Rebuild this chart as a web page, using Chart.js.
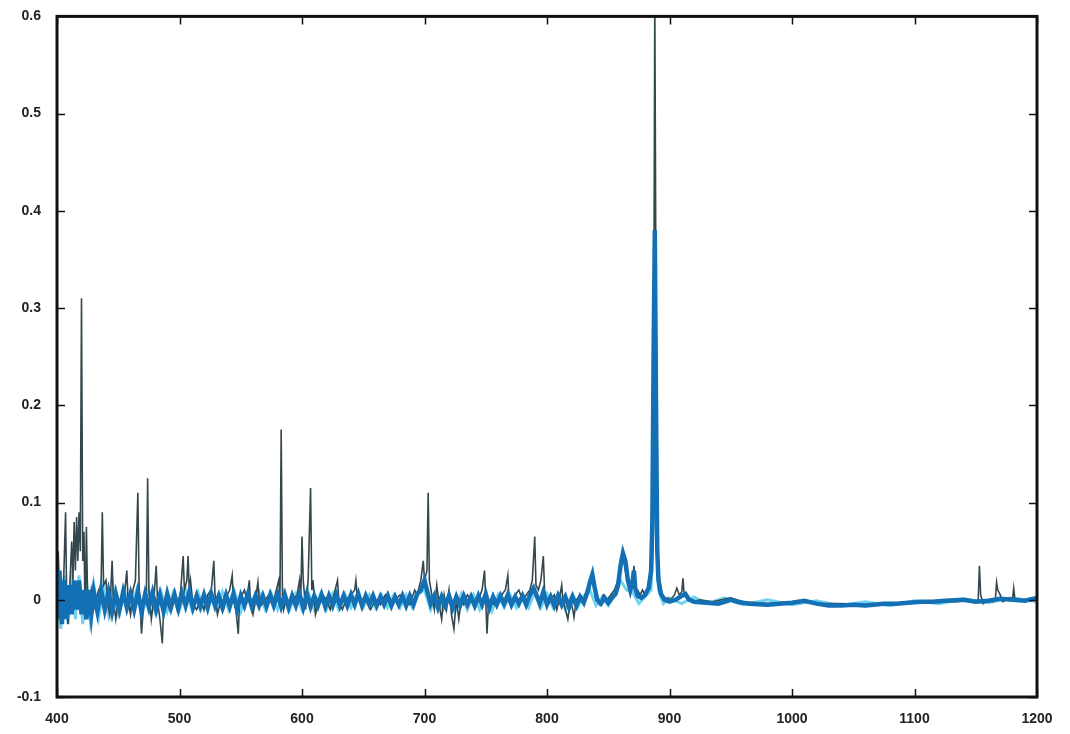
<!DOCTYPE html>
<html>
<head>
<meta charset="utf-8">
<script src="https://cdn.jsdelivr.net/npm/chart.js@4"></script>
<style>
  html, body { margin: 0; padding: 0; background: #fff; }
  #wrap { width: 1070px; height: 734px; }
</style>
</head>
<body>
<div id="wrap"><canvas id="spec"></canvas></div>
<script>
// axis ticks
const xTicks = [400, 500, 600, 700, 800, 900, 1000, 1100, 1200];
const yTicks = [-0.1, 0, 0.1, 0.2, 0.3, 0.4, 0.5, 0.6];

// dark trace: sharp lines [wavenumber, value]
const darkTrace = [
  [400,0],[401,0.05],[402,0.01],[403,-0.02],[405,0],[407,0.09],[408,-0.01],[409,-0.025],
  [411,0.03],[412,0.06],[413,0.02],[414,0.08],[415,0.03],[416,0.085],[417,0.04],[418,0.09],
  [419,0.05],[420,0.31],[421,0.04],[422,0.07],[423,-0.02],[424,0.075],[425,0],[426,-0.015],
  [428,0.01],[430,-0.01],[432,0],[434,0.01],[436,0.015],[437,0.09],[438,0.015],[440,0.02],
  [441,0],[443,-0.015],[445,0.04],[446,0],[448,-0.02],[450,0],[452,-0.01],[455,0.005],
  [457,0.03],[458,0],[460,-0.015],[462,0.01],[464,0.02],[466,0.11],[467,0.015],[469,-0.035],
  [471,0],[473,0.01],[474,0.125],[475,0.01],[477,-0.02],[479,0],[481,0.035],[482,0],
  [484,-0.02],[486,-0.045],[487,-0.01],[489,0],[492,-0.01],[495,0.005],[498,-0.01],[501,0.01],
  [503,0.045],[504,0.01],[506,0.02],[507,0.045],[508,0.01],[509,0.02],[511,-0.005],[514,-0.01],
  [517,0],[520,-0.01],[523,0.005],[526,0.01],[528,0.04],[529,0.005],[531,-0.015],[534,0],
  [536,-0.01],[539,0.005],[541,0.01],[543,0.025],[544,0],[546,-0.01],[548,-0.035],[549,0],
  [551,0.005],[553,0.01],[555,0],[557,0.02],[558,-0.005],[560,-0.015],[562,0],[564,0.018],
  [565,0],[567,-0.005],[570,0],[573,0.005],[576,-0.005],[579,0.01],[581,0.02],[582,0],
  [583,0.175],[584,0.01],[585,-0.01],[587,0],[590,-0.005],[593,0],[596,0.005],[598,0.02],
  [599,0],[600,0.065],[601,0.02],[603,-0.01],[605,0.02],[607,0.115],[608,0.01],[609,0.02],
  [611,-0.015],[614,0],[617,0.005],[620,0],[623,-0.01],[626,0.005],[629,0.02],[630,0],
  [633,-0.01],[636,0],[640,0.005],[643,0.01],[644,0.02],[645,0.005],[648,-0.005],[652,0],
  [656,-0.01],[660,0],[664,-0.005],[668,0.005],[672,-0.005],[676,0],[680,0.005],[684,0],
  [688,-0.005],[692,0.01],[694,0.005],[697,0.02],[699,0.04],[700,0.02],[702,0.03],[703,0.11],
  [704,0.02],[706,0.005],[708,-0.01],[710,0.015],[712,-0.005],[714,-0.02],[716,0.005],[718,-0.01],
  [720,0.01],[722,-0.015],[724,-0.03],[726,0],[728,-0.02],[730,0],[732,-0.005],[735,0.005],
  [738,0],[741,-0.005],[744,0],[747,0.01],[749,0.03],[750,0],[751,-0.035],[752,-0.01],
  [754,0],[757,-0.005],[760,0],[763,0.005],[766,0.01],[768,0.025],[769,0],[771,-0.005],
  [774,0.005],[777,0.01],[780,0],[783,0.005],[786,0.01],[788,0.02],[790,0.065],[791,0.015],
  [793,0.01],[795,0.02],[797,0.045],[798,0.01],[800,-0.005],[803,0],[806,0.005],[808,-0.01],
  [810,0],[812,0.015],[813,0],[815,-0.01],[817,-0.02],[819,0],[821,-0.01],[822,-0.018],
  [824,0],[827,0.005],[830,0],[833,0.01],[836,0.02],[838,0.015],[840,0],[843,-0.005],
  [846,0.005],[849,0],[852,0.005],[855,0.01],[858,0.02],[860,0.04],[862,0.045],[864,0.03],
  [866,0.02],[868,0.01],[870,0.02],[871,0.035],[872,0.01],[874,0.01],[876,0.005],[878,0.01],
  [880,0.005],[882,0.01],[884,0.02],[886,0.04],[887,0.2],[888,0.62],[889,0.3],[890,0.06],
  [891,0.03],[893,0.01],[895,0],[898,0.002],[901,0],[904,0.005],[906,0.012],[908,0.005],
  [910,0.008],[911,0.022],[912,0.005],[915,0],[920,-0.002],[925,0],[935,-0.002],[950,0.002],
  [960,-0.002],[980,-0.004],[1000,-0.002],[1010,-0.001],[1020,-0.004],[1030,-0.004],[1040,-0.004],
  [1060,-0.005],[1080,-0.004],[1100,-0.003],[1120,-0.002],[1135,-0.002],[1145,0],[1150,-0.002],
  [1152,0],[1153,0.035],[1154,0.005],[1156,-0.004],[1160,0],[1164,-0.002],[1166,0],[1167,0.018],
  [1168,0.01],[1170,0.005],[1172,-0.002],[1175,0],[1178,0.002],[1180,0],[1181,0.012],[1182,0],
  [1186,0],[1190,-0.002],[1195,0],[1200,0]
];

// blue trace: thick baseline band with the broad bands
const blueTrace = [
  [400,-0.02],[402,0.03],[404,-0.025],[406,0.02],[408,-0.02],[410,0.015],[412,-0.015],[414,0.02],
  [416,-0.01],[418,0.02],[420,-0.015],[422,0.01],[424,-0.02],[426,0.01],[428,-0.015],[430,0.008],
  [433,-0.012],[436,0.01],[439,-0.01],[442,0.008],[445,-0.012],[448,0.006],[451,-0.01],[454,0.008],
  [457,-0.008],[460,0.006],[463,-0.01],[466,0.008],[469,-0.012],[472,0.006],[475,-0.008],[478,0.007],
  [481,-0.01],[484,0.005],[487,-0.012],[490,0.006],[493,-0.008],[496,0.005],[499,-0.009],[502,0.007],
  [505,-0.006],[508,0.008],[511,-0.008],[514,0.004],[517,-0.007],[520,0.005],[523,-0.008],[526,0.006],
  [529,-0.006],[532,0.004],[535,-0.008],[538,0.005],[541,-0.007],[544,0.006],[547,-0.01],[550,0.004],
  [553,-0.006],[556,0.006],[559,-0.007],[562,0.004],[565,-0.006],[568,0.004],[571,-0.007],[574,0.005],
  [577,-0.006],[580,0.006],[583,-0.007],[586,0.005],[589,-0.008],[592,0.004],[595,-0.006],[598,0.006],
  [601,-0.008],[604,0.006],[607,-0.007],[610,0.004],[613,-0.006],[616,0.005],[619,-0.007],[622,0.004],
  [625,-0.006],[628,0.005],[631,-0.006],[634,0.004],[637,-0.006],[640,0.005],[643,-0.005],[646,0.006],
  [649,-0.006],[652,0.004],[655,-0.005],[658,0.004],[661,-0.006],[664,0.003],[667,-0.005],[670,0.004],
  [673,-0.006],[676,0.003],[679,-0.005],[682,0.004],[685,-0.006],[688,0.004],[691,-0.005],[694,0.006],
  [697,0.01],[700,0.02],[702,0.01],[705,-0.004],[708,0.004],[711,-0.008],[714,0.003],[717,-0.006],
  [720,0.004],[723,-0.008],[726,0.003],[729,-0.006],[732,0.004],[735,-0.005],[738,0.003],[741,-0.006],
  [744,0.004],[747,-0.005],[750,0.006],[753,-0.008],[756,0.003],[759,-0.005],[762,0.004],[765,-0.004],
  [768,0.005],[771,-0.005],[774,0.003],[777,-0.004],[780,0.004],[783,-0.005],[786,0.005],[789,0.012],
  [791,0.006],[794,-0.004],[797,0.008],[800,-0.005],[803,0.003],[806,-0.006],[809,0.004],[812,-0.005],
  [815,0.003],[818,-0.008],[821,0.003],[824,-0.006],[827,0.003],[830,-0.003],[833,0.008],[835,0.018],
  [837,0.026],[839,0.012],[841,0],[844,-0.004],[847,0.002],[850,-0.003],[853,0.002],[856,0.006],
  [858,0.015],[860,0.035],[862,0.048],[864,0.04],[866,0.02],[868,0.01],[870,0.02],[871,0.03],
  [872,0.012],[874,0.004],[877,0.002],[880,0.005],[883,0.012],[885,0.03],[886,0.08],[887,0.25],
  [888,0.38],[889,0.2],[890,0.05],[891,0.02],[893,0.006],[896,0],[900,-0.002],[905,0],
  [910,0.004],[913,0.006],[916,0],[920,-0.002],[930,-0.003],[940,-0.004],[950,0],[955,-0.002],
  [965,-0.004],[980,-0.005],[1000,-0.003],[1010,-0.001],[1020,-0.004],[1030,-0.006],[1040,-0.006],
  [1050,-0.005],[1060,-0.006],[1075,-0.004],[1085,-0.004],[1095,-0.003],[1105,-0.002],[1115,-0.002],
  [1125,-0.001],[1140,0],[1150,-0.002],[1160,-0.001],[1170,0.001],[1180,0],[1190,-0.001],[1200,0.002]
];

// light trace: wider noise under the band
const cyanTrace = [
  [400,0.02],[403,-0.03],[406,0.025],[409,-0.025],[412,0.03],[415,-0.02],[418,0.025],[421,-0.025],
  [424,0.02],[427,-0.02],[430,0.015],[434,-0.018],[438,0.012],[442,-0.015],[446,0.012],[450,-0.014],
  [455,0.01],[460,-0.012],[465,0.01],[470,-0.012],[475,0.01],[480,-0.012],[485,0.008],[490,-0.012],
  [495,0.008],[500,-0.01],[505,0.01],[510,-0.01],[515,0.008],[520,-0.01],[525,0.008],[530,-0.01],
  [535,0.008],[540,-0.01],[545,0.008],[550,-0.012],[555,0.006],[560,-0.01],[565,0.008],[570,-0.01],
  [575,0.006],[580,-0.01],[585,0.008],[590,-0.01],[595,0.006],[600,-0.01],[605,0.008],[610,-0.01],
  [615,0.006],[620,-0.01],[625,0.006],[630,-0.01],[635,0.006],[640,-0.008],[645,0.006],[650,-0.008],
  [655,0.005],[660,-0.008],[665,0.005],[670,-0.008],[675,0.005],[680,-0.008],[685,0.005],[690,-0.008],
  [695,0.006],[700,0.01],[705,-0.01],[710,0.006],[715,-0.01],[720,0.006],[725,-0.012],[730,0.006],
  [735,-0.01],[740,0.005],[745,-0.01],[750,0.006],[755,-0.012],[760,0.005],[765,-0.008],[770,0.005],
  [775,-0.008],[780,0.005],[785,-0.008],[790,0.008],[795,-0.008],[800,0.006],[805,-0.008],[810,0.005],
  [815,-0.01],[820,0.004],[825,-0.008],[830,0.004],[835,0.01],[840,-0.006],[845,0.003],[850,-0.006],
  [855,0.004],[860,0.02],[865,0.01],[870,0.008],[875,-0.004],[880,0.003],[885,0.01],[888,0.15],
  [891,0.01],[895,-0.004],[900,0.002],[910,-0.004],[920,0.003],[930,-0.004],[945,0.002],[960,-0.005],
  [980,0],[1000,-0.005],[1020,-0.001],[1040,-0.006],[1060,-0.002],[1080,-0.006],[1100,-0.001],
  [1120,-0.004],[1140,0.001],[1160,-0.003],[1180,0.002],[1200,-0.002]
];

const toPoints = arr => arr.map(p => ({ x: p[0], y: p[1] }));

// box round the plot area plus inward ticks on all four sides
const framePlugin = {
  id: "frame",
  afterDatasetsDraw(chart) {
    const { ctx, chartArea: a, scales } = chart;
    const len = 8;
    ctx.save();
    ctx.strokeStyle = "#111";
    ctx.lineWidth = 1.5;
    ctx.beginPath();
    xTicks.forEach(v => {
      const px = Math.round(scales.x.getPixelForValue(v)) + 0.5;
      ctx.moveTo(px, a.bottom); ctx.lineTo(px, a.bottom - len);
      ctx.moveTo(px, a.top); ctx.lineTo(px, a.top + len);
    });
    yTicks.forEach(v => {
      const py = Math.round(scales.y.getPixelForValue(v)) + 0.5;
      ctx.moveTo(a.left, py); ctx.lineTo(a.left + len, py);
      ctx.moveTo(a.right, py); ctx.lineTo(a.right - len, py);
    });
    ctx.stroke();
    ctx.lineWidth = 3;
    ctx.strokeRect(a.left, a.top, a.right - a.left, a.bottom - a.top);
    ctx.restore();
  }
};

const tickFont = { family: "'Liberation Sans', Arial, sans-serif", size: 14, weight: "bold" };

chart = new Chart(document.getElementById("spec"), {
  type: "line",
  data: {
    datasets: [
      { data: toPoints(blueTrace), borderColor: "#1470b4", borderWidth: 4.5, order: 0 },
      { data: toPoints(darkTrace), borderColor: "#34474c", borderWidth: 1.6, order: 1 },
      { data: toPoints(cyanTrace), borderColor: "#72d2f2", borderWidth: 3, order: 2 }
    ]
  },
  options: {
    responsive: true,
    maintainAspectRatio: false,
    animation: false,
    parsing: false,
    elements: { point: { radius: 0 }, line: { tension: 0 } },
    layout: { padding: { top: 15, right: 33, left: 0, bottom: 0 } },
    plugins: { legend: { display: false }, tooltip: { enabled: false } },
    scales: {
      x: {
        type: "linear",
        min: 400, max: 1200,
        afterFit: s => { s.height = 37; },
        afterBuildTicks: s => { s.ticks = xTicks.map(v => ({ value: v })); },
        grid: { display: false },
        border: { display: false },
        ticks: {
          font: tickFont, color: "#222", padding: 6, maxRotation: 0, autoSkip: false,
          callback: v => String(v)
        }
      },
      y: {
        type: "linear",
        min: -0.1, max: 0.6,
        afterFit: s => { s.width = 57; },
        afterBuildTicks: s => { s.ticks = yTicks.map(v => ({ value: v })); },
        grid: { display: false },
        border: { display: false },
        ticks: {
          font: tickFont, color: "#222", padding: 8,
          callback: v => (Math.abs(v) < 1e-9 ? "0" : String(Math.round(v * 10) / 10))
        }
      }
    }
  },
  plugins: [framePlugin]
});
</script>
</body>
</html>
